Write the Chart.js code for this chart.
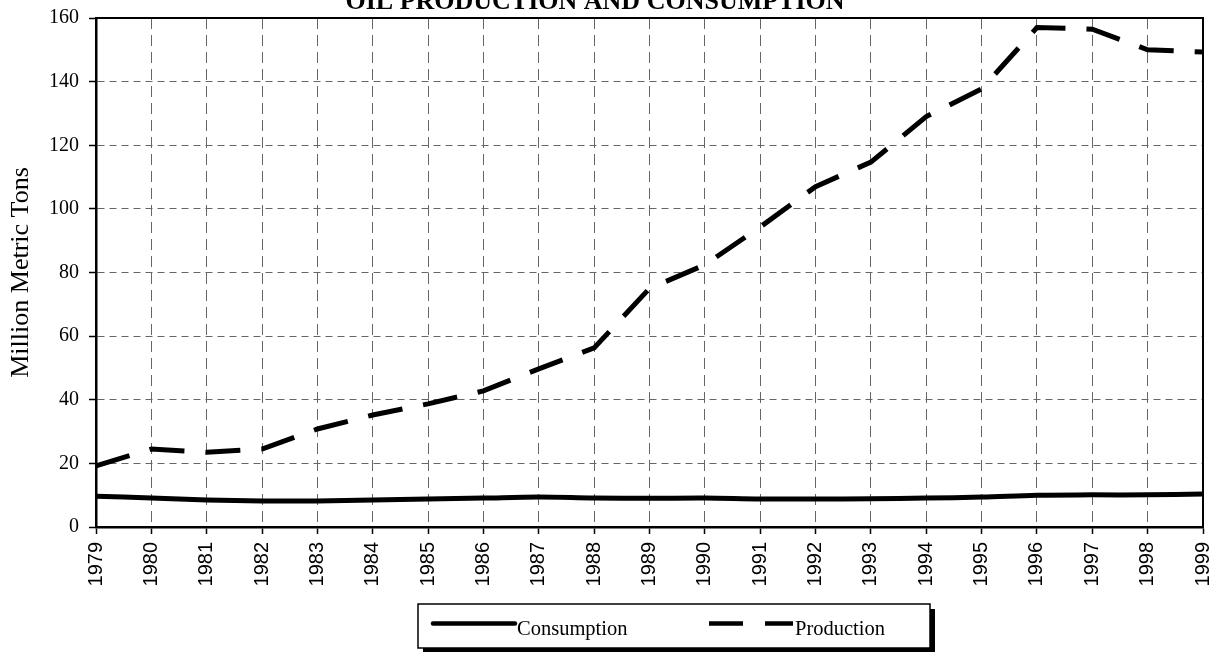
<!DOCTYPE html>
<html>
<head>
<meta charset="utf-8">
<script src="https://cdn.jsdelivr.net/npm/chart.js@4.4.1/dist/chart.umd.min.js"></script>
<style>
html,body{margin:0;padding:0;background:#ffffff;}
#wrap{position:relative;width:1212px;height:652px;}
canvas{display:block;}
</style>
</head>
<body>
<div id="wrap"><canvas id="c" width="1212" height="652"></canvas></div>
<script>
// ---- data ----
const years = ['1979','1980','1981','1982','1983','1984','1985','1986','1987','1988','1989',
               '1990','1991','1992','1993','1994','1995','1996','1997','1998','1999'];
const consumption = [9.7, 9.1, 8.5, 8.2, 8.2, 8.5, 8.8, 9.1, 9.4, 9.1, 9.0,
                     9.1, 8.8, 8.8, 8.9, 9.1, 9.4, 10.0, 10.1, 10.1, 10.4];
const production  = [19.2, 24.5, 23.5, 24.5, 30.8, 35.2, 38.7, 42.8, 49.7, 56.3, 75.0,
                     82.4, 94.3, 107.0, 114.7, 129.0, 137.7, 157.0, 156.5, 150.0, 149.3];
const yTickValues = [0, 20, 40, 60, 80, 100, 120, 140, 160];
const seriesNames = ['Consumption', 'Production'];
const chartTitle = 'OIL PRODUCTION AND CONSUMPTION';
const yAxisTitle = 'Million Metric Tons';

// ---- plugins ----
const framePlugin = {
  id: 'frame',
  beforeDatasetsDraw(chart) {
    const a = chart.chartArea, ctx = chart.ctx;
    ctx.save();
    ctx.strokeStyle = '#000';
    ctx.lineWidth = 2;
    ctx.beginPath();
    ctx.moveTo(a.left, a.top);
    ctx.lineTo(a.right, a.top);
    ctx.lineTo(a.right, a.bottom);
    ctx.stroke();
    ctx.restore();
  }
};

const titlePlugin = {
  id: 'topTitle',
  afterDraw(chart) {
    const ctx = chart.ctx;
    ctx.save();
    ctx.fillStyle = '#000';
    ctx.font = 'bold 26px "Liberation Serif", "Times New Roman", serif';
    ctx.textAlign = 'center';
    ctx.textBaseline = 'alphabetic';
    ctx.fillText(chartTitle, 595, 9);
    ctx.restore();
  }
};

const legendPlugin = {
  id: 'boxLegend',
  afterDraw(chart) {
    const ctx = chart.ctx;
    const bx = 418, by = 604, bw = 512, bh = 44, sh = 5;
    ctx.save();
    ctx.fillStyle = '#000';
    ctx.fillRect(bx + sh, by + sh, bw, bh);
    ctx.fillStyle = '#fff';
    ctx.fillRect(bx, by, bw, bh);
    ctx.strokeStyle = '#000';
    ctx.lineWidth = 1.5;
    ctx.strokeRect(bx, by, bw, bh);

    const ly = 623.5;
    ctx.font = '20.5px "Liberation Serif", "Times New Roman", serif';
    ctx.fillStyle = '#000';
    ctx.textAlign = 'left';
    ctx.textBaseline = 'alphabetic';

    chart.data.datasets.forEach((ds, i) => {
      const x0 = i === 0 ? 433 : 709;
      const x1 = i === 0 ? 515 : 793;
      ctx.strokeStyle = ds.borderColor;
      ctx.lineWidth = 4.5;
      ctx.lineCap = i === 0 ? 'round' : 'butt';
      ctx.setLineDash(i === 0 ? [] : [34, 22]);
      ctx.beginPath();
      ctx.moveTo(x0, ly);
      ctx.lineTo(x1, ly);
      ctx.stroke();
      ctx.setLineDash([]);
      ctx.fillText(ds.label, x1 + 2, 635);
    });
    ctx.restore();
  }
};

// ---- chart ----
new Chart(document.getElementById('c'), {
  type: 'line',
  data: {
    labels: years,
    datasets: [
      {
        label: seriesNames[0],
        data: consumption,
        borderColor: '#000000',
        backgroundColor: '#000000',
        borderWidth: 5,
        pointRadius: 0,
        tension: 0.35,
        fill: false
      },
      {
        label: seriesNames[1],
        data: production,
        borderColor: '#000000',
        backgroundColor: '#000000',
        borderWidth: 5,
        borderDash: [35, 21],
        borderCapStyle: 'butt',
        borderJoinStyle: 'miter',
        pointRadius: 0,
        tension: 0,
        fill: false
      }
    ]
  },
  options: {
    responsive: false,
    animation: false,
    devicePixelRatio: 1,
    layout: { padding: { top: 18, right: 9, left: 0, bottom: 0 } },
    plugins: {
      legend: { display: false },
      title: { display: false },
      tooltip: { enabled: false }
    },
    scales: {
      x: {
        type: 'category',
        offset: false,
        afterFit(scale) {
          scale.height = 125;
          scale.paddingLeft = 0; scale.paddingRight = 0;
          scale.paddingTop = 0; scale.paddingBottom = 0;
        },
        ticks: {
          autoSkip: false,
          maxRotation: 90,
          minRotation: 90,
          padding: 8,
          color: '#000',
          font: { family: '"Liberation Sans", Arial, sans-serif', size: 20 }
        },
        grid: {
          color: '#666666',
          lineWidth: 1,
          drawTicks: true,
          tickLength: 7,
          tickColor: '#000',
          tickWidth: 1.5,
          tickBorderDash: []
        },
        border: { display: true, color: '#000', width: 2.5, dash: [11, 6] }
      },
      y: {
        min: 0,
        max: 160,
        afterFit(scale) {
          scale.width = 96;
          scale.paddingLeft = 0; scale.paddingRight = 0;
          scale.paddingTop = 0; scale.paddingBottom = 0;
        },
        afterBuildTicks(scale) { scale.ticks = yTickValues.map(v => ({ value: v })); },
        ticks: {
          padding: 10,
          color: '#000',
          font: { family: '"Liberation Serif", "Times New Roman", serif', size: 20 }
        },
        grid: {
          color: '#666666',
          lineWidth: 1,
          drawTicks: true,
          tickLength: 7,
          tickColor: '#000',
          tickWidth: 1.5,
          tickBorderDash: []
        },
        border: { display: true, color: '#000', width: 2.5, dash: [7, 5] },
        title: {
          display: true,
          text: yAxisTitle,
          color: '#000',
          padding: { top: 8, bottom: 0 },
          font: { family: '"Liberation Serif", "Times New Roman", serif', size: 26, lineHeight: 1.0 }
        }
      }
    }
  },
  plugins: [framePlugin, titlePlugin, legendPlugin]
});
</script>
</body>
</html>
